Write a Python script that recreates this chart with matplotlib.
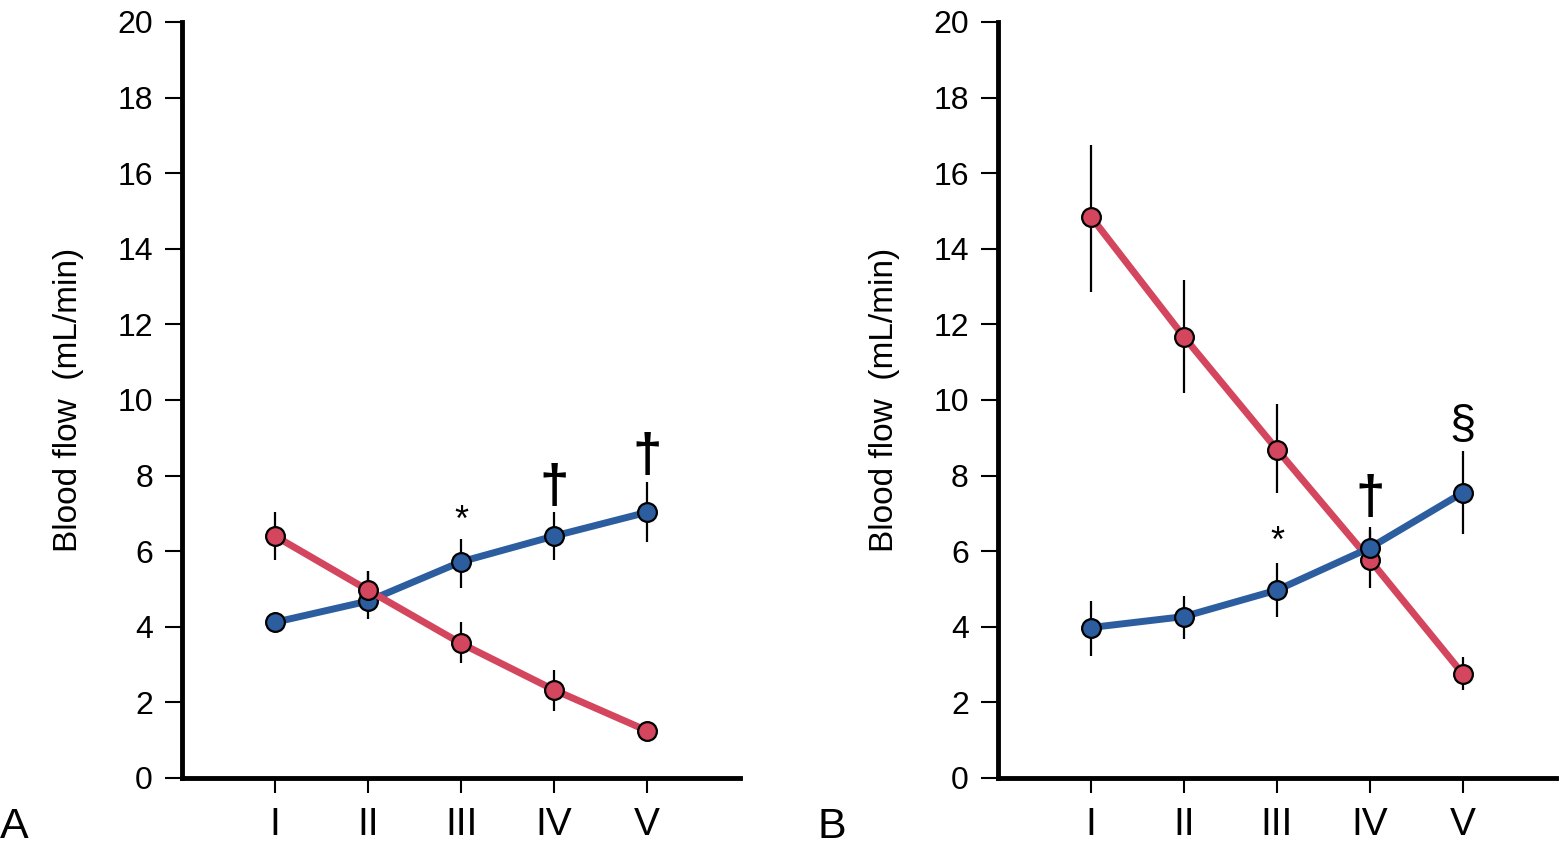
"""Blood flow in two panels, red vs blue series"""

import matplotlib.pyplot as plt
import numpy as np

plt.rcParams['font.family'] = ['Liberation Sans', 'DejaVu Sans']

STAGES = ["I", "II", "III", "IV", "V"]

# panel A
a_blue = [4.12, 4.68, 5.72, 6.40, 7.03]
a_blue_lo = [0.0, 0.48, 0.69, 0.63, 0.80]
a_blue_hi = [0.0, 0.79, 0.59, 0.63, 0.81]
a_red = [6.40, 4.97, 3.56, 2.33, 1.25]
a_red_lo = [0.63, 0.5, 0.53, 0.56, 0.0]
a_red_hi = [0.63, 0.5, 0.56, 0.53, 0.0]
a_marks = ["", "", "*", "\u2020", "\u2020"]
a_mark_y = [0, 0, 6.78, 7.67, 8.5]

# panel B
b_blue = [3.98, 4.27, 4.97, 6.09, 7.55]
b_blue_lo = [0.75, 0.60, 0.70, 0.56, 1.10]
b_blue_hi = [0.71, 0.54, 0.71, 0.56, 1.10]
b_red = [14.85, 11.67, 8.69, 5.77, 2.75]
b_red_lo = [1.98, 1.49, 1.14, 0.75, 0.42]
b_red_hi = [1.90, 1.50, 1.20, 0.80, 0.46]
b_marks = ["", "", "*", "\u2020", "\u00a7"]
b_mark_y = [0, 0, 6.22, 7.38, 9.34]

RED = "#D4455E"
BLUE = "#2C5E9F"


def draw_panel(ax, blue, blue_lo, blue_hi, red, red_lo, red_hi,
               marks, mark_y, blue_on_top):
    x = np.arange(1, len(STAGES) + 1)
    zb, zr = (4, 3) if blue_on_top else (3, 4)

    # error bars first, underneath the dots
    ax.errorbar(x, blue, yerr=[blue_lo, blue_hi], fmt="none",
                ecolor="black", elinewidth=1.6, capsize=0, zorder=2)
    ax.errorbar(x, red, yerr=[red_lo, red_hi], fmt="none",
                ecolor="black", elinewidth=1.6, capsize=0, zorder=2)

    ax.plot(x, blue, color=BLUE, lw=5, marker="o", ms=13.5,
            mfc=BLUE, mec="black", mew=1.6, zorder=zb)
    ax.plot(x, red, color=RED, lw=5, marker="o", ms=13.5,
            mfc=RED, mec="black", mew=1.6, zorder=zr)

    for xi, m, my in zip(x, marks, mark_y):
        if not m:
            continue
        if m == "*":
            ax.text(xi, my, m, ha="center", va="center", fontsize=26)
        elif m == "\u2020":
            ax.text(xi, my, m, ha="center", va="center", fontsize=38,
                    fontweight="bold")
        else:
            ax.text(xi, my, m, ha="center", va="center", fontsize=34)

    ax.set_xlim(0, 6)
    ax.set_ylim(0, 20)
    ax.set_yticks(range(0, 21, 2))
    ax.set_xticks(x)
    ax.set_xticklabels(STAGES, fontsize=28)
    ax.tick_params(axis="y", labelsize=23, length=12, width=1.5, pad=9)
    ax.tick_params(axis="x", length=11, width=1.5, pad=10)
    ax.spines["top"].set_visible(False)
    ax.spines["right"].set_visible(False)
    ax.spines["left"].set_linewidth(3.5)
    ax.spines["bottom"].set_linewidth(3.5)
    ax.set_ylabel("Blood flow  (mL/min)", fontsize=24, labelpad=24)


fig = plt.figure(figsize=(15.6, 8.46), dpi=100)
ax_a = fig.add_axes([0.1167, 0.0804, 0.3577, 0.8936])
ax_b = fig.add_axes([0.6397, 0.0804, 0.3577, 0.8936])

draw_panel(ax_a, a_blue, a_blue_lo, a_blue_hi, a_red, a_red_lo, a_red_hi,
           a_marks, a_mark_y, blue_on_top=False)
draw_panel(ax_b, b_blue, b_blue_lo, b_blue_hi, b_red, b_red_lo, b_red_hi,
           b_marks, b_mark_y, blue_on_top=True)

fig.text(0.0, 0.01, "A", fontsize=31, ha="left", va="baseline")
fig.text(0.524, 0.01, "B", fontsize=31, ha="left", va="baseline")

fig.savefig("out.png", dpi=100)
plt.close(fig)
